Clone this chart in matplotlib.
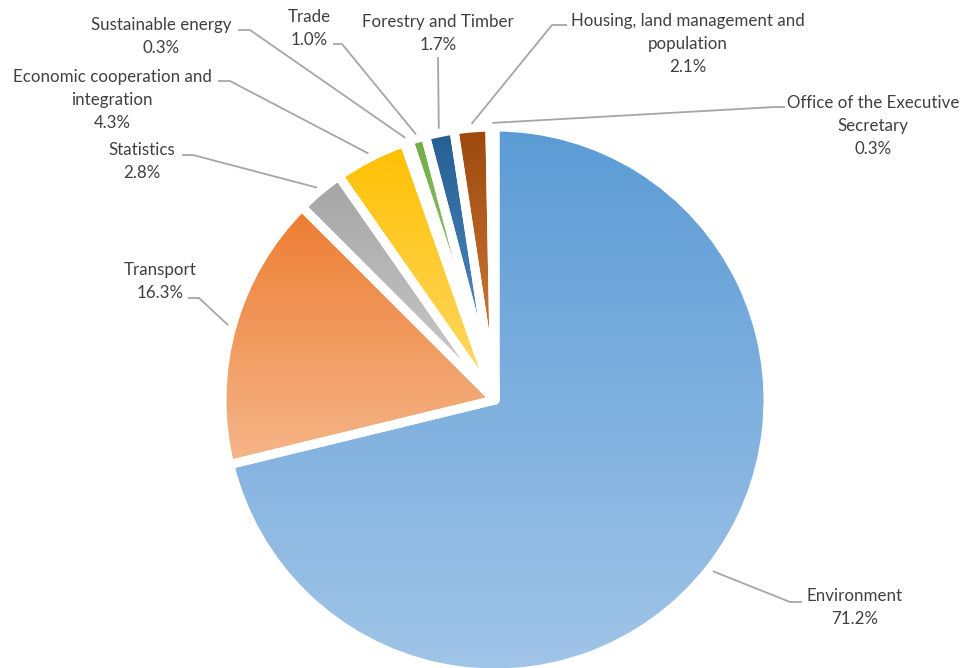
import numpy as np
import matplotlib
matplotlib.use("Agg")
import matplotlib.pyplot as plt
from matplotlib.colors import to_rgb

plt.rcParams['font.family'] = ['Lato', 'DejaVu Sans']

# ---------------- data ----------------
categorias = ["Environment", "Transport", "Statistics",
              "Economic cooperation and\nintegration", "Sustainable energy",
              "Trade", "Forestry and Timber",
              "Housing, land management and\npopulation",
              "Office of the Executive\nSecretary"]
porcentajes = [71.2, 16.3, 2.8, 4.3, 0.3, 1.0, 1.7, 2.1, 0.3]

# colores arriba -> abajo (degradado por porcion)
col_arriba = ['#5B9BD5', '#ED7D31', '#A5A5A5', '#FFC000', '#4472C4',
              '#70AD47', '#255E91', '#9E480E', '#636363']
col_abajo = ['#A2C5E8', '#F5B68A', '#CDCDCD', '#FFDA6C', '#8FAADC',
             '#A9D18E', '#5E97D0', '#D8853F', '#A5A5A5']

# ---------------- layout (pixeles) ----------------
W, H = 963, 668
cx, cy, R = 495, 400, 273
# posicion del texto (centro x, y primera linea), codo y fin de la linea guia
pos_txt = [(855, 596), (160, 270), (142, 150), (112, 77), (161, 25),
           (309, 17), (438, 22), (688, 21), (873, 103)]
codo = [(790, 602), (199, 298), (193, 155), (230, 81), (250, 30),
        (342, 44), (438, 57), (552, 25), (775, 107)]
fin = [(802, 602), (188, 298), (182, 155), (218, 81), (238, 30),
       (333, 44), (438, 57), (567, 25), (785, 107)]

fig = plt.figure(figsize=(W/100, H/100), dpi=100)
ax = fig.add_axes([0, 0, 1, 1])

wedges, _ = ax.pie(porcentajes, center=(cx, cy), radius=R,
                   startangle=-90, counterclock=True,
                   wedgeprops=dict(facecolor='none', edgecolor='white',
                                   linewidth=6.5, joinstyle='round', zorder=3))

for w, c0, c1 in zip(wedges, col_arriba, col_abajo):
    v = w.get_path().vertices
    x0, x1 = v[:, 0].min(), v[:, 0].max()
    y0, y1 = v[:, 1].min(), v[:, 1].max()
    t = np.linspace(0, 1, 256)[:, None, None]
    grad = (1-t)*np.array(to_rgb(c0)) + t*np.array(to_rgb(c1))
    im = ax.imshow(grad, extent=(x0, x1, y1, y0), origin='upper',
                   aspect='auto', zorder=2, interpolation='bilinear')
    im.set_clip_path(w)

# etiquetas y lineas guia
tot = sum(porcentajes)
acum = 0
for i, (cat, p) in enumerate(zip(categorias, porcentajes)):
    mid = (acum + p/2)/tot*2*np.pi - np.pi/2
    acum += p
    ex, ey = cx + 1.015*R*np.cos(mid), cy + 1.015*R*np.sin(mid)
    ax.plot([ex, codo[i][0], fin[i][0]], [ey, codo[i][1], fin[i][1]],
            color='#A6A6A6', lw=1.3, zorder=4, solid_capstyle='butt')
    lineas = cat.split("\n") + [f"{p:.1f}%"]
    tx, ty = pos_txt[i]
    for k, l in enumerate(lineas):
        ax.text(tx, ty + k*23, l, ha='center', va='center',
                fontsize=12.2, color='#404040', zorder=5)

ax.set_xlim(0, W)
ax.set_ylim(H, 0)
ax.axis('off')
fig.savefig("out.png", dpi=100)
